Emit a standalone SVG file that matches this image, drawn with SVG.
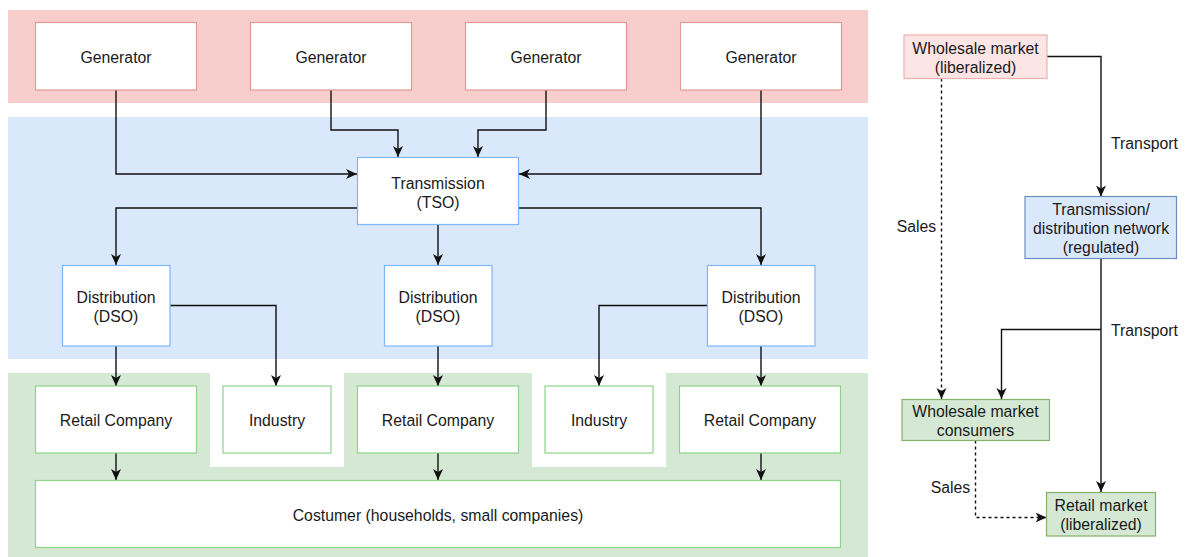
<svg xmlns="http://www.w3.org/2000/svg" width="1186" height="557" viewBox="0 0 1186 557">
<style>
text{font-family:"Liberation Sans",Arial,sans-serif;font-size:15.8px;fill:#1a1a1a;text-anchor:middle}
.gen{fill:#fff;stroke:#e09b99;stroke-width:1.2}
.blu{fill:#fff;stroke:#7db7fa;stroke-width:1.2}
.grn{fill:#fff;stroke:#8ed48a;stroke-width:1.2}
.c{fill:none;stroke:#111;stroke-width:1.4}
.d{fill:none;stroke:#111;stroke-width:1.4;stroke-dasharray:3 3}
.lbl{text-anchor:start}
</style>
<defs>
<marker id="ah" markerUnits="userSpaceOnUse" markerWidth="12" markerHeight="11" refX="11" refY="5.5" orient="auto">
<path d="M0,0.5 L11,5.5 L0,10.5 L3,5.5 Z" fill="#111"/>
</marker>
</defs>
<g id="bands">
<rect x="8" y="10" width="860" height="93" fill="#f8cecc"/>
<rect x="8" y="117" width="860" height="242" fill="#dae8fc"/>
<path d="M8,373 H210 V467 H344 V373 H532 V467 H666 V373 H868 V557 H8 Z" fill="#d5e8d4"/>
</g>
<g id="connectors">
<path class="c" d="M116,90 V174 H357" marker-end="url(#ah)"/>
<path class="c" d="M331,90 V130 H398 V157" marker-end="url(#ah)"/>
<path class="c" d="M546,90 V130 H478 V157" marker-end="url(#ah)"/>
<path class="c" d="M761,90 V174 H519" marker-end="url(#ah)"/>
<path class="c" d="M357,208 H116 V265" marker-end="url(#ah)"/>
<path class="c" d="M438,225 V265" marker-end="url(#ah)"/>
<path class="c" d="M519,208 H761 V265" marker-end="url(#ah)"/>
<path class="c" d="M170,305.5 H276 V386" marker-end="url(#ah)"/>
<path class="c" d="M707,305.5 H599 V386" marker-end="url(#ah)"/>
<path class="c" d="M116,346 V386" marker-end="url(#ah)"/>
<path class="c" d="M438,346 V386" marker-end="url(#ah)"/>
<path class="c" d="M761,346 V386" marker-end="url(#ah)"/>
<path class="c" d="M116,453 V480" marker-end="url(#ah)"/>
<path class="c" d="M438,453 V480" marker-end="url(#ah)"/>
<path class="c" d="M761,453 V480" marker-end="url(#ah)"/>
<path class="c" d="M1047,56.5 H1101 V196.5" marker-end="url(#ah)"/>
<path class="c" d="M1101,258.5 V492" marker-end="url(#ah)"/>
<path class="c" d="M1101,329.5 H1001.5 V399" marker-end="url(#ah)"/>
<path class="d" d="M941.5,78.5 V399" marker-end="url(#ah)"/>
<path class="d" d="M975.5,440.5 V517.5 H1046.5" marker-end="url(#ah)"/>
<text class="lbl" x="1111" y="149">Transport</text>
<text class="lbl" x="1111" y="336">Transport</text>
<text x="916.5" y="232">Sales</text>
<text x="950.5" y="493">Sales</text>
</g>
<g id="gen1"><rect class="gen" x="35.5" y="22.5" width="161" height="67.5"/><text x="116" y="63">Generator</text></g>
<g id="gen2"><rect class="gen" x="250.5" y="22.5" width="161" height="67.5"/><text x="331" y="63">Generator</text></g>
<g id="gen3"><rect class="gen" x="465.5" y="22.5" width="161" height="67.5"/><text x="546" y="63">Generator</text></g>
<g id="gen4"><rect class="gen" x="680.5" y="22.5" width="161" height="67.5"/><text x="761" y="63">Generator</text></g>
<g id="tso"><rect class="blu" x="357.5" y="157.5" width="161" height="67"/><text x="438" y="188.5">Transmission</text><text x="438" y="207.5">(TSO)</text></g>
<g id="dso1"><rect class="blu" x="62.5" y="265.5" width="107.5" height="80.5"/><text x="116" y="302.5">Distribution</text><text x="116" y="321.5">(DSO)</text></g>
<g id="dso2"><rect class="blu" x="384.5" y="265.5" width="107.5" height="80.5"/><text x="438" y="302.5">Distribution</text><text x="438" y="321.5">(DSO)</text></g>
<g id="dso3"><rect class="blu" x="707.5" y="265.5" width="107.5" height="80.5"/><text x="761" y="302.5">Distribution</text><text x="761" y="321.5">(DSO)</text></g>
<g id="retail1"><rect class="grn" x="35.5" y="386" width="161" height="67"/><text x="116" y="426">Retail Company</text></g>
<g id="industry1"><rect class="grn" x="223" y="386" width="108" height="67"/><text x="277" y="426">Industry</text></g>
<g id="retail2"><rect class="grn" x="357.5" y="386" width="161" height="67"/><text x="438" y="426">Retail Company</text></g>
<g id="industry2"><rect class="grn" x="545" y="386" width="108" height="67"/><text x="599" y="426">Industry</text></g>
<g id="retail3"><rect class="grn" x="679.5" y="386" width="161" height="67"/><text x="760" y="426">Retail Company</text></g>
<g id="customer"><rect class="grn" x="35.5" y="480.5" width="805" height="67"/><text x="438" y="520.5">Costumer (households, small companies)</text></g>
<g id="wholesale"><rect x="904" y="35" width="143" height="43.5" fill="#fce5e4" stroke="#eeb1af" stroke-width="1.2"/><text x="975.5" y="53.5">Wholesale market</text><text x="975.5" y="72.5">(liberalized)</text></g>
<g id="network"><rect x="1025" y="196.5" width="151.5" height="62" fill="#dae8fc" stroke="#6c8ebf" stroke-width="1.2"/><text x="1101" y="214.5">Transmission/</text><text x="1101" y="233.5">distribution network</text><text x="1101" y="252.5">(regulated)</text></g>
<g id="wsconsumers"><rect x="902" y="399.5" width="147.5" height="41" fill="#d5e8d4" stroke="#82b366" stroke-width="1.2"/><text x="975.5" y="417">Wholesale market</text><text x="975.5" y="436">consumers</text></g>
<g id="retailmarket"><rect x="1046.5" y="492.5" width="109" height="43.5" fill="#d5e8d4" stroke="#82b366" stroke-width="1.2"/><text x="1101" y="510.5">Retail market</text><text x="1101" y="529.5">(liberalized)</text></g>
</svg>
